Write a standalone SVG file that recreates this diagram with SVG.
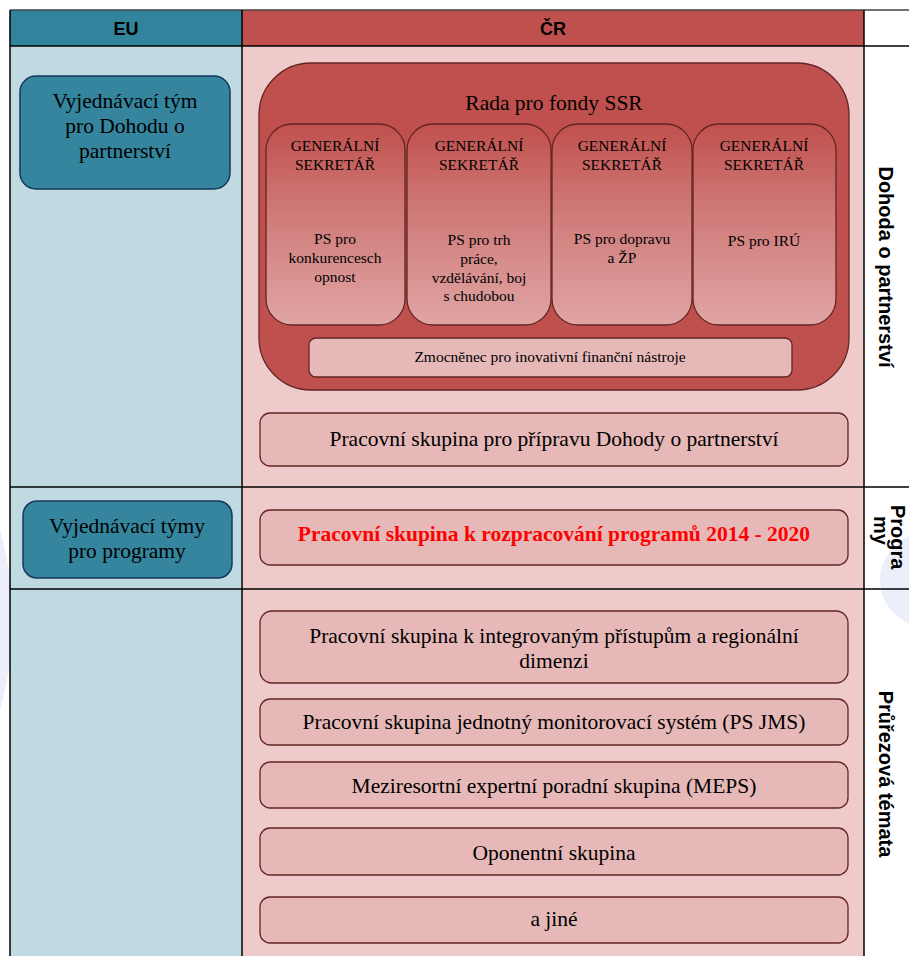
<svg xmlns="http://www.w3.org/2000/svg" width="909" height="956" viewBox="0 0 909 956">
<defs>
<linearGradient id="gsek" x1="0" y1="0" x2="0" y2="1">
<stop offset="0" stop-color="#c0504d"/>
<stop offset="0.45" stop-color="#cf7b79"/>
<stop offset="1" stop-color="#e0a5a4"/>
</linearGradient>
</defs>
<style>
.eu{fill:#34859d;stroke:#17365d;stroke-width:1.5}
.pink{fill:#e6b8b7;stroke:#632523;stroke-width:1.3}
.sek{fill:url(#gsek);stroke:#632523;stroke-width:1.3}
.grid{stroke:#000;stroke-width:1.5;fill:none}
</style>
<rect width="909" height="956" fill="#ffffff"/>
<ellipse cx="-40" cy="620" rx="52" ry="140" fill="#eceffa"/>
<ellipse cx="935" cy="580" rx="55" ry="50" fill="#eceffa"/>
<rect x="10" y="10" width="232" height="36" fill="#31849b"/>
<rect x="242" y="10" width="622" height="36" fill="#c0504d"/>
<rect x="10" y="46" width="232" height="910" fill="#c0dae1"/>
<rect x="242" y="46" width="622" height="910" fill="#eecaca"/>
<g id="grid" class="grid">
<line x1="10" y1="10" x2="909" y2="10" stroke="#444"/>
<line x1="10" y1="46" x2="909" y2="46"/>
<line x1="10" y1="487" x2="909" y2="487"/>
<line x1="10" y1="589" x2="909" y2="589"/>
<line x1="10" y1="10" x2="10" y2="956"/>
<line x1="242" y1="10" x2="242" y2="956"/>
<line x1="864" y1="10" x2="864" y2="956"/>
</g>
<g id="labels" font-family="'Liberation Sans', Arial, sans-serif" font-weight="bold" font-size="18" fill="#000" text-anchor="middle">
<text x="126" y="35">EU</text>
<text x="553" y="35">ČR</text>
<g font-size="20">
<text transform="translate(879,267) rotate(90)">Dohoda o partnerství</text>
<text transform="translate(891,505) rotate(90)" text-anchor="start">Progra</text>
<text transform="translate(874,516) rotate(90)" text-anchor="start">my</text>
<text transform="translate(879,774) rotate(90)">Průřezová témata</text>
</g>
</g>
<g font-family="'Liberation Serif', 'Times New Roman', serif" fill="#000" text-anchor="middle">
<g id="eu-dohoda" font-size="21.5">
<rect class="eu" x="20" y="76" width="210" height="113" rx="16"/>
<text x="125" y="108">Vyjednávací tým</text>
<text x="125" y="133">pro Dohodu o</text>
<text x="125" y="158">partnerství</text>
</g>
<g id="eu-programy" font-size="21.5">
<rect class="eu" x="23" y="501" width="209" height="77" rx="14"/>
<text x="127" y="533">Vyjednávací týmy</text>
<text x="127" y="558">pro programy</text>
</g>
<g id="rada" font-size="21.5">
<rect x="259" y="63" width="590" height="327" rx="52" fill="#c0504d" stroke="#632523" stroke-width="1.3"/>
<text x="554" y="110">Rada pro fondy SSR</text>
</g>
<g id="sek1" font-size="15.5">
<rect class="sek" x="266" y="124" width="139" height="201" rx="26"/>
<text x="335" y="151">GENERÁLNÍ</text>
<text x="335" y="170">SEKRETÁŘ</text>
<text x="335" y="244">PS pro</text>
<text x="335" y="263">konkurencesch</text>
<text x="335" y="282">opnost</text>
</g>
<g id="sek2" font-size="15.5">
<rect class="sek" x="407" y="124" width="144" height="201" rx="26"/>
<text x="479" y="151">GENERÁLNÍ</text>
<text x="479" y="170">SEKRETÁŘ</text>
<text x="479" y="245">PS pro trh</text>
<text x="479" y="264">práce,</text>
<text x="479" y="283">vzdělávání, boj</text>
<text x="479" y="301">s chudobou</text>
</g>
<g id="sek3" font-size="15.5">
<rect class="sek" x="552" y="124" width="140" height="201" rx="26"/>
<text x="622" y="151">GENERÁLNÍ</text>
<text x="622" y="170">SEKRETÁŘ</text>
<text x="622" y="244">PS pro dopravu</text>
<text x="622" y="263">a ŽP</text>
</g>
<g id="sek4" font-size="15.5">
<rect class="sek" x="693" y="124" width="143" height="201" rx="26"/>
<text x="764" y="151">GENERÁLNÍ</text>
<text x="764" y="170">SEKRETÁŘ</text>
<text x="764" y="246">PS pro IRÚ</text>
</g>
<g id="zmocnenec" font-size="15.5">
<rect class="pink" x="309" y="338" width="483" height="39" rx="7"/>
<text x="550" y="362">Zmocněnec pro inovativní finanční nástroje</text>
</g>
<g id="ps-dohoda" font-size="21.5">
<rect class="pink" x="260" y="413" width="588" height="53" rx="10"/>
<text x="554" y="446">Pracovní skupina pro přípravu Dohody o partnerství</text>
</g>
<g id="ps-programy" font-size="21.5">
<rect class="pink" x="260" y="510" width="588" height="55" rx="10"/>
<text x="554" y="541" font-weight="bold" fill="#ff0000">Pracovní skupina k rozpracování programů 2014 - 2020</text>
</g>
<g id="ps-integrovane" font-size="21.5">
<rect class="pink" x="260" y="611" width="588" height="72" rx="12"/>
<text x="554" y="643">Pracovní skupina k integrovaným přístupům a regionální</text>
<text x="554" y="668">dimenzi</text>
</g>
<g id="ps-jms" font-size="21.5">
<rect class="pink" x="260" y="699" width="588" height="46" rx="10"/>
<text x="554" y="729">Pracovní skupina jednotný monitorovací systém (PS JMS)</text>
</g>
<g id="meps" font-size="21.5">
<rect class="pink" x="260" y="762" width="588" height="46" rx="10"/>
<text x="554" y="793">Meziresortní expertní poradní skupina (MEPS)</text>
</g>
<g id="oponentni" font-size="21.5">
<rect class="pink" x="260" y="828" width="588" height="47" rx="10"/>
<text x="554" y="860">Oponentní skupina</text>
</g>
<g id="jine" font-size="21.5">
<rect class="pink" x="260" y="897" width="588" height="46" rx="10"/>
<text x="554" y="926">a jiné</text>
</g>
</g>
</svg>
